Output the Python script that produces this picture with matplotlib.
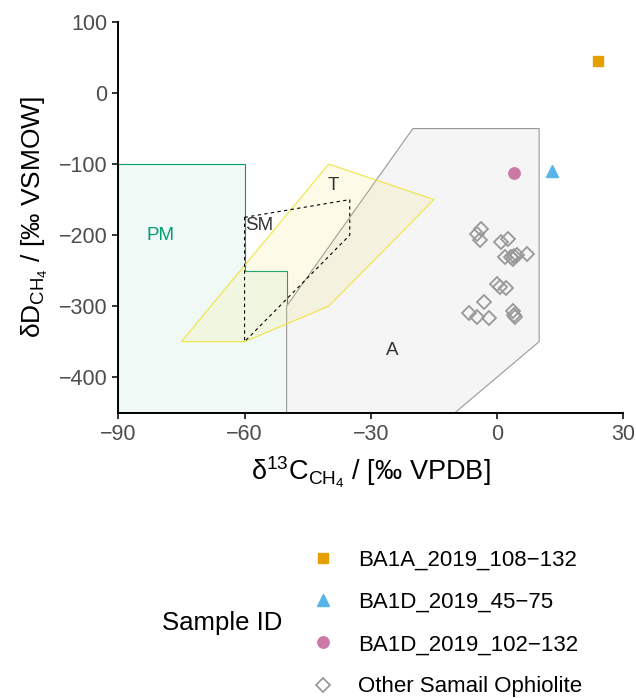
import matplotlib
matplotlib.use("Agg")
from matplotlib import pyplot as plt
from matplotlib.patches import Polygon
from matplotlib.lines import Line2D

plt.rcParams['font.family'] = ['Liberation Sans', 'DejaVu Sans']
plt.rcParams['mathtext.fontset'] = 'custom'
plt.rcParams['mathtext.rm'] = 'Liberation Sans'
plt.rcParams['mathtext.it'] = 'Liberation Sans:italic'

# field polygons (d13C, dD)
pm_x = [-90, -60, -60, -50, -50, -90]
pm_y = [-100, -100, -250, -250, -450, -450]
a_x = [-50, -50, -20, 10, 10, -10]
a_y = [-450, -300, -50, -50, -350, -450]
t_x = [-75, -40, -15, -40, -60]
t_y = [-350, -100, -150, -300, -350]
sm_x = [-60, -35, -35, -60]
sm_y = [-175, -150, -200, -350]

field_names = ["PM", "SM", "T", "A"]
field_lab_x = [-80, -56.5, -39, -25]
field_lab_y = [-200, -187, -130, -362]

# samples
samples = ["BA1A_2019_108\u2212132", "BA1D_2019_45\u221275", "BA1D_2019_102\u2212132"]
sample_c = [24, 13, 4]
sample_d = [45, -110, -113]

# other Samail Ophiolite gases
other_c = [-3.9, -4.7, -4.1, 0.9, 2.6, 1.8, 3.3, 4.0, 4.7, 3.7, 7.1,
           0.1, 0.6, 2.1, -3.1, -6.7, -4.7, -1.9, 3.9, 4.0, 4.2]
other_d = [-191, -198, -207, -210, -205, -231, -231, -229, -228, -234, -226,
           -269, -273, -275, -294, -309, -315, -316, -307, -312, -315]

cols = ["#E69F00", "#56B4E9", "#CC79A7"]
marks = ["s", "^", "o"]
msizes = [7, 8.8, 8.2]

fig = plt.figure(figsize=(6.36, 6.98), dpi=100)
ax = fig.add_axes([118.3/636, 1-412.7/698, 505/636, 390.7/698])

ax.add_patch(Polygon(list(zip(pm_x, pm_y)), closed=True, facecolor=(0, 0.62, 0.45, 0.06),
                     edgecolor="#009E73", lw=0.8, zorder=1))
ax.add_patch(Polygon(list(zip(a_x, a_y)), closed=True, facecolor="#F5F5F5",
                     edgecolor="#999999", lw=0.8, zorder=2))
ax.add_patch(Polygon(list(zip(t_x, t_y)), closed=True, facecolor=(0.94, 0.89, 0.26, 0.12),
                     edgecolor="#F0E442", lw=0.8, zorder=3))
ax.add_patch(Polygon(list(zip(sm_x, sm_y)), closed=True, facecolor="none",
                     edgecolor="black", lw=0.8, ls=(0, (3, 3)), zorder=4))

for name, lx, ly in zip(field_names, field_lab_x, field_lab_y):
    ax.text(lx, ly, name, ha="center", va="center", fontsize=13.5,
            color="#009E73" if name == "PM" else "#333333", zorder=5)

handles = []
for i in range(3):
    ax.plot(sample_c[i], sample_d[i], marker=marks[i], ms=msizes[i], color=cols[i],
            ls="none", zorder=7)
    handles.append(Line2D([], [], marker=marks[i], ms=msizes[i], color=cols[i], ls="none"))
ax.plot(other_c, other_d, marker="D", ms=7.4, mfc="none", mec="#999999", mew=1.3,
        ls="none", zorder=6)
handles.append(Line2D([], [], marker="D", ms=7.4, mfc="none", mec="#999999", mew=1.3, ls="none"))

ax.set_xlim(-90, 30)
ax.set_ylim(-450, 100)
ax.set_xticks([-90, -60, -30, 0, 30])
ax.set_yticks([-400, -300, -200, -100, 0, 100])
ax.set_xticklabels(["\u221290", "\u221260", "\u221230", "0", "30"])
ax.set_yticklabels(["\u2212400", "\u2212300", "\u2212200", "\u2212100", "0", "100"])
for s in ["top", "right"]:
    ax.spines[s].set_visible(False)
for s in ["left", "bottom"]:
    ax.spines[s].set_linewidth(1.4)
ax.tick_params(length=4, width=1.4, color="#333333", labelsize=15.5, labelcolor="#4D4D4D", pad=4)

ax.set_xlabel("\u03b4$^{\\mathregular{13}}$C$_{\\mathregular{CH_4}}$ / [\u2030 VPDB]", fontsize=19.5, labelpad=7)
ax.set_ylabel("\u03b4D$_{\\mathregular{CH_4}}$ / [\u2030 VSMOW]", fontsize=19, labelpad=6)

labels = samples + ["Other Samail Ophiolite"]
fig.legend(handles, labels, loc="upper left", bbox_to_anchor=(311.7/636, 1-550/698),
           frameon=False, fontsize=16, handlelength=1, handletextpad=1.1,
           labelspacing=0.95, borderpad=0, borderaxespad=0)
fig.text(161.7/636, 1-623.3/698, "Sample ID", fontsize=18.5, ha="left", va="center")

fig.savefig("out.png", dpi=100)
